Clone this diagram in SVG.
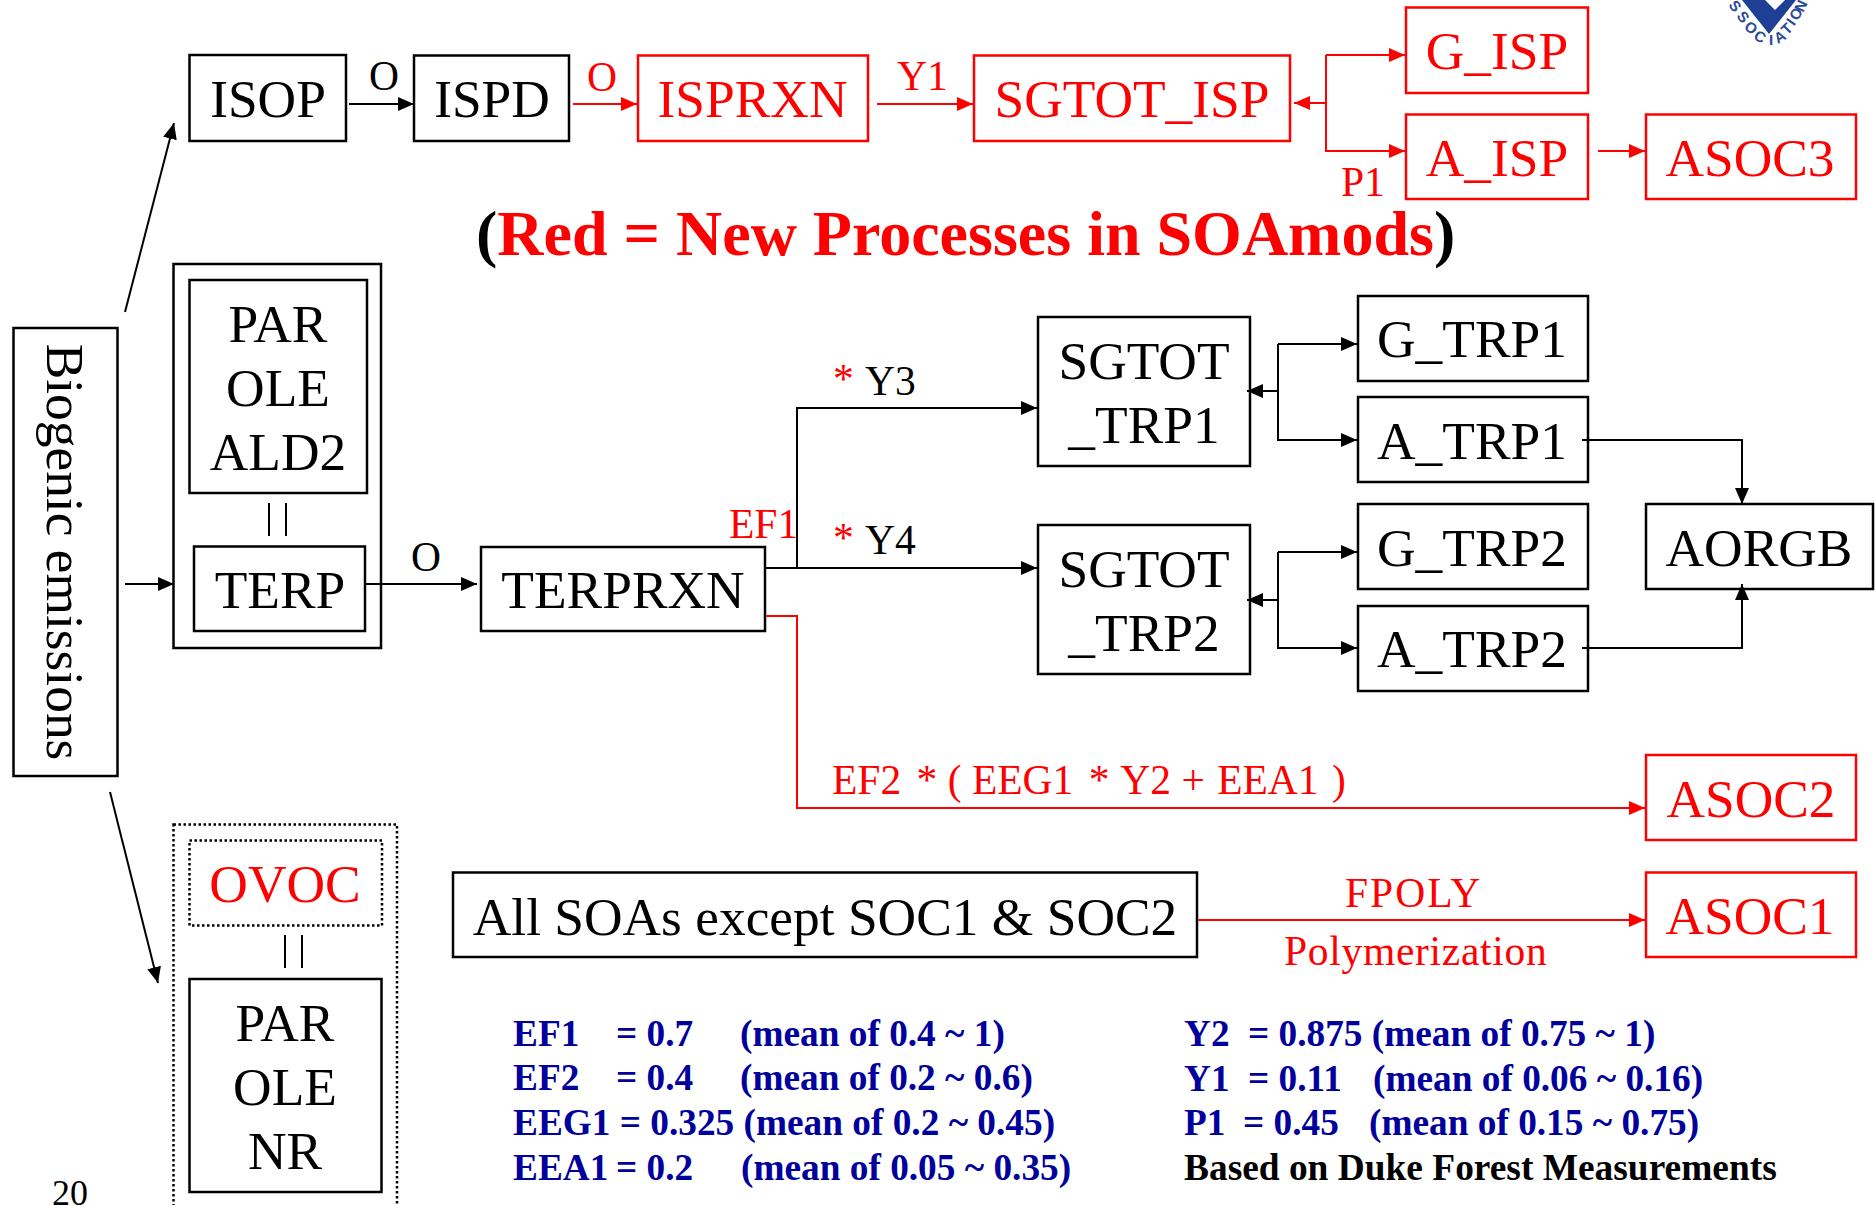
<svg xmlns="http://www.w3.org/2000/svg" width="1875" height="1205" viewBox="0 0 1875 1205">
<style>
text{font-family:"Liberation Serif","Times New Roman",serif;}
.n{font-size:53.4px;fill:#000;text-anchor:middle}
.r{font-size:53.4px;fill:#f00;text-anchor:middle}
.l{font-size:41.5px;fill:#000}
.lr{font-size:41.5px;fill:#f00}
.b{font-size:37.3px;font-weight:bold;fill:#00009c}
.k{font-size:37.4px;font-weight:bold;fill:#000}
.bx{fill:#fff;stroke:#000;stroke-width:2.5}
.bxr{fill:#fff;stroke:#f00;stroke-width:2.5}
.dot{fill:none;stroke:#000;stroke-width:2.5;stroke-dasharray:2.5 2.5}
.c{fill:none;stroke:#000;stroke-width:2}
.cr{fill:none;stroke:#f00;stroke-width:2}
.g{font-family:"Liberation Sans",Arial,sans-serif;font-size:15px;font-weight:bold;fill:#2a4a9a;text-anchor:middle}
</style>
<defs>
<marker id="a" markerUnits="userSpaceOnUse" markerWidth="16" markerHeight="14" refX="16" refY="7" orient="auto"><path d="M0 0L16 7L0 14Z" fill="#000"/></marker>
<marker id="ar" markerUnits="userSpaceOnUse" markerWidth="16" markerHeight="14" refX="16" refY="7" orient="auto"><path d="M0 0L16 7L0 14Z" fill="#f00"/></marker>
</defs>
<g id="logo">
<path d="M1742 0L1765 0L1775 10L1785 0L1796 0L1769 34Z" fill="#1f3f94"/>
<text class="g" transform="translate(1735,6) rotate(52)" y="5">S</text>
<text class="g" transform="translate(1743,17) rotate(50)" y="5">S</text>
<text class="g" transform="translate(1751,28) rotate(42)" y="5">O</text>
<text class="g" transform="translate(1760,37) rotate(30)" y="5">C</text>
<text class="g" transform="translate(1771,40)" y="5">I</text>
<text class="g" transform="translate(1780,37) rotate(-30)" y="5">A</text>
<text class="g" transform="translate(1787,29) rotate(-45)" y="5">T</text>
<text class="g" transform="translate(1791,22) rotate(-55)" y="5">I</text>
<text class="g" transform="translate(1796,14) rotate(-60)" y="5">O</text>
<text class="g" transform="translate(1801,6) rotate(-65)" y="5">N</text>
</g>
<g id="biogenic"><rect class="bx" x="13.5" y="328" width="104" height="448"/><text class="n" transform="translate(47,552) rotate(90)">Biogenic emissions</text></g>
<g id="ISOP"><rect class="bx" x="189.500" y="55" width="156.500" height="86"/><text class="n" x="268" y="117">ISOP</text></g>
<g id="ISPD"><rect class="bx" x="414" y="55.500" width="155" height="85.500"/><text class="n" x="492" y="117">ISPD</text></g>
<g id="ISPRXN"><rect class="bxr" x="638" y="55.500" width="230" height="85.500"/><text class="r" x="752.500" y="117">ISPRXN</text></g>
<g id="SGTOT_ISP"><rect class="bxr" x="974" y="55.500" width="316" height="85.500"/><text class="r" x="1132" y="117">SGTOT_ISP</text></g>
<g id="G_ISP"><rect class="bxr" x="1406" y="7.500" width="182" height="85.500"/><text class="r" x="1497" y="69">G_ISP</text></g>
<g id="A_ISP"><rect class="bxr" x="1406" y="114.500" width="182" height="84.500"/><text class="r" x="1497" y="176">A_ISP</text></g>
<g id="ASOC3"><rect class="bxr" x="1646" y="114.500" width="210" height="84.500"/><text class="r" x="1750" y="176">ASOC3</text></g>
<g id="terp-group"><rect class="bx" x="173.500" y="264" width="207.500" height="384"/></g>
<g id="PAR-OLE-ALD2"><rect class="bx" x="189.500" y="280" width="177.500" height="213"/><text class="n" x="278" y="342">PAR</text><text class="n" x="278" y="406">OLE</text><text class="n" x="278" y="470">ALD2</text></g>
<g id="eq1"><path class="c" d="M269 503V536M286 503V536"/></g>
<g id="TERP"><rect class="bx" x="194" y="546.500" width="171" height="84.500"/><text class="n" x="280" y="608">TERP</text></g>
<g id="TERPRXN"><rect class="bx" x="481" y="547" width="284" height="84"/><text class="n" x="623" y="608">TERPRXN</text></g>
<g id="SGTOT_TRP1"><rect class="bx" x="1038" y="317" width="212" height="149"/><text class="n" x="1144" y="379">SGTOT</text><text class="n" x="1144" y="443">_TRP1</text></g>
<g id="SGTOT_TRP2"><rect class="bx" x="1038" y="525" width="212" height="149"/><text class="n" x="1144" y="587">SGTOT</text><text class="n" x="1144" y="651">_TRP2</text></g>
<g id="G_TRP1"><rect class="bx" x="1358" y="296" width="230" height="85"/><text class="n" x="1472" y="357">G_TRP1</text></g>
<g id="A_TRP1"><rect class="bx" x="1358" y="397" width="230" height="85"/><text class="n" x="1472" y="459">A_TRP1</text></g>
<g id="G_TRP2"><rect class="bx" x="1358" y="504" width="230" height="85"/><text class="n" x="1472" y="566">G_TRP2</text></g>
<g id="A_TRP2"><rect class="bx" x="1358" y="606" width="230" height="85"/><text class="n" x="1472" y="667">A_TRP2</text></g>
<g id="AORGB"><rect class="bx" x="1646" y="504" width="227" height="85"/><text class="n" x="1759" y="566">AORGB</text></g>
<g id="ASOC2"><rect class="bxr" x="1646" y="755" width="210" height="85"/><text class="r" x="1751" y="817">ASOC2</text></g>
<g id="ASOC1"><rect class="bxr" x="1646" y="872.500" width="210" height="84.500"/><text class="r" x="1750" y="934">ASOC1</text></g>
<g id="all-soas"><rect class="bx" x="453" y="872.500" width="744" height="84.500"/><text class="n" x="825" y="935">All SOAs except SOC1 &amp; SOC2</text></g>
<g id="ovoc-group"><rect class="dot" x="173.500" y="824.500" width="223.500" height="390"/></g>
<g id="OVOC"><rect class="dot" x="189.500" y="840.500" width="192.500" height="85"/><text class="r" x="285" y="902">OVOC</text></g>
<g id="eq2"><path class="c" d="M285 935V968M302 935V968"/></g>
<g id="PAR-OLE-NR"><rect class="bx" x="189.500" y="979" width="192" height="213"/><text class="n" x="285" y="1041">PAR</text><text class="n" x="285" y="1105">OLE</text><text class="n" x="285" y="1169">NR</text></g>
<g id="connectors">
<path class="c" d="M125 312L174 123" marker-end="url(#a)"/>
<path class="c" d="M125 584H174" marker-end="url(#a)"/>
<path class="c" d="M110 792L158 983" marker-end="url(#a)"/>
<path class="c" d="M349 104H414" marker-end="url(#a)"/>
<path class="cr" d="M573 104H637" marker-end="url(#ar)"/>
<path class="cr" d="M877 104H973" marker-end="url(#ar)"/>
<path class="cr" d="M1326 55V151H1405" marker-end="url(#ar)"/>
<path class="cr" d="M1326 55H1405" marker-end="url(#ar)"/>
<path class="cr" d="M1326 103H1294" marker-end="url(#ar)"/>
<path class="cr" d="M1598 151H1645" marker-end="url(#ar)"/>
<path class="c" d="M365 584H477" marker-end="url(#a)"/>
<path class="c" d="M765 568H1037" marker-end="url(#a)"/>
<path class="c" d="M797 568V408H1037" marker-end="url(#a)"/>
<path class="cr" d="M766 616H797V808H1645" marker-end="url(#ar)"/>
<path class="c" d="M1278 391H1247" marker-end="url(#a)"/>
<path class="c" d="M1278 344V440H1357" marker-end="url(#a)"/>
<path class="c" d="M1278 344H1357" marker-end="url(#a)"/>
<path class="c" d="M1278 600H1247" marker-end="url(#a)"/>
<path class="c" d="M1278 552V648H1357" marker-end="url(#a)"/>
<path class="c" d="M1278 552H1357" marker-end="url(#a)"/>
<path class="c" d="M1582 440H1742V504" marker-end="url(#a)"/>
<path class="c" d="M1582 648H1742V584" marker-end="url(#a)"/>
<path class="cr" d="M1198 920H1645" marker-end="url(#ar)"/>
</g>
<g id="labels">
<text class="l" x="369" y="90">O</text>
<text class="lr" x="587" y="91">O</text>
<text class="lr" x="897" y="90">Y1</text>
<text class="lr" x="1341" y="196">P1</text>
<text x="476" y="255" font-size="64" font-weight="bold"><tspan fill="#000">(</tspan><tspan fill="#f00">Red = New Processes in SOAmods</tspan><tspan fill="#000">)</tspan></text>
<text class="lr" x="833" y="393">*</text><text class="l" x="865" y="395">Y3</text>
<text class="lr" x="833" y="552">*</text><text class="l" x="865" y="554">Y4</text>
<text class="lr" x="729" y="538">EF1</text>
<text class="l" x="411" y="571">O</text>
<text class="lr" x="832" y="794">EF2 <tspan dx="5">*</tspan> <tspan dx="0">(</tspan> EEG1 <tspan dx="5">*</tspan> <tspan dx="2">Y2</tspan> <tspan dx="0">+</tspan> <tspan dx="2">EEA1</tspan> <tspan dx="3">)</tspan></text>
<text class="lr" x="1345" y="907" letter-spacing="2">FPOLY</text>
<text class="lr" x="1284" y="965" letter-spacing="0.7">Polymerization</text>
<text x="52" y="1205" font-size="36">20</text>
<text class="b" x="513" y="1046">EF1</text><text class="b" x="616" y="1046">= 0.7</text><text class="b" x="740" y="1046">(mean of 0.4 ~ 1)</text>
<text class="b" x="513" y="1090">EF2</text><text class="b" x="616" y="1090">= 0.4</text><text class="b" x="740" y="1090">(mean of 0.2 ~ 0.6)</text>
<text class="b" x="513" y="1135">EEG1 = 0.325 (mean of 0.2 ~ 0.45)</text>
<text class="b" x="513" y="1180">EEA1</text><text class="b" x="616" y="1180">= 0.2</text><text class="b" x="741" y="1180">(mean of 0.05 ~ 0.35)</text>
<text class="b" x="1184" y="1046">Y2</text><text class="b" x="1248" y="1046">= 0.875 (mean of 0.75 ~ 1)</text>
<text class="b" x="1184" y="1091">Y1</text><text class="b" x="1248" y="1091">= 0.11</text><text class="b" x="1373" y="1091">(mean of 0.06 ~ 0.16)</text>
<text class="b" x="1184" y="1135">P1</text><text class="b" x="1243" y="1135">= 0.45</text><text class="b" x="1369" y="1135">(mean of 0.15 ~ 0.75)</text>
<text class="k" x="1184" y="1180">Based on Duke Forest Measurements</text>
</g>
</svg>
